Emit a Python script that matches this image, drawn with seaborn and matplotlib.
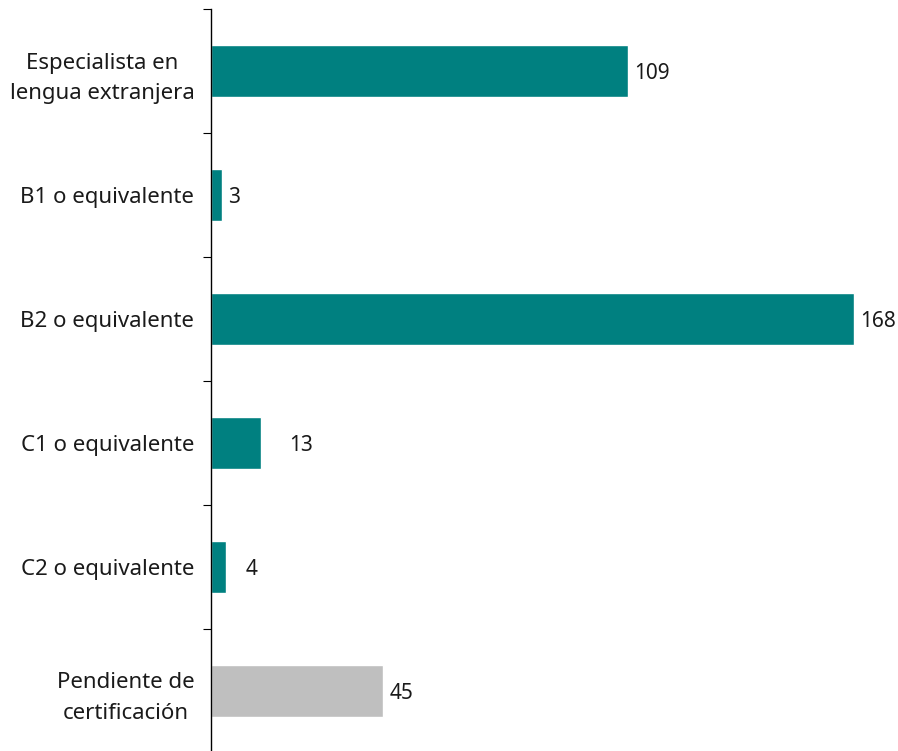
import matplotlib
matplotlib.use("Agg")
import matplotlib.pyplot as plt
import seaborn as sns
import pandas as pd
import numpy as np

# Teachers by language certification level
categories = [
    "Especialista en\nlengua extranjera",
    "B1 o equivalente",
    "B2 o equivalente",
    "C1 o equivalente",
    "C2 o equivalente",
    "Pendiente de\ncertificación",
]
values = [109, 3, 168, 13, 4, 45]
bar_colors = ["#008080", "#008080", "#008080", "#008080", "#008080", "#BFBFBF"]
# horizontal gap (px) between each bar end and its value label
label_gap_px = [6, 6, 6, 28, 19, 6]

sns.set_theme(style="white")
plt.rcParams["font.family"] = ["Noto Sans", "DejaVu Sans"]

df = pd.DataFrame({"categoria": categories, "n": values})

W, H = 898, 751
fig = plt.figure(figsize=(W / 100, H / 100), dpi=100)
ax_left, ax_top, ax_bottom = 211, 9, 753
ax = fig.add_axes([ax_left / W, 1 - ax_bottom / H, (W - ax_left) / W, (ax_bottom - ax_top) / H])

sns.barplot(
    data=df, x="n", y="categoria", hue="categoria",
    palette=dict(zip(categories, bar_colors)), legend=False,
    orient="h", width=0.415, saturation=1, ax=ax,
)

ax.set_xlim(0, 179.5)
ax.set_ylim(len(categories) - 0.5, -0.5)
ax.set_xlabel("")
ax.set_ylabel("")
ax.set_xticks([])

for side in ("top", "right", "bottom"):
    ax.spines[side].set_visible(False)
ax.spines["left"].set_color("black")
ax.spines["left"].set_linewidth(1.0)

ax.set_yticks(range(len(categories)))
ax.set_yticklabels(categories, fontsize=16, color="#1a1a1a", multialignment="center",
                   linespacing=1.6)
ax.tick_params(axis="y", which="major", length=0, pad=12)
ax.set_yticks(np.arange(-0.5, len(categories), 1.0), minor=True)
ax.tick_params(axis="y", which="minor", length=5.8, width=0.8, color="black", direction="out", left=True)

for i, (v, gap) in enumerate(zip(values, label_gap_px)):
    ax.annotate(str(v), xy=(v, i), xytext=(gap * 0.72, 0), textcoords="offset points",
                ha="left", va="center_baseline", fontsize=15, color="#1a1a1a")

fig.savefig("out.png", dpi=100)
